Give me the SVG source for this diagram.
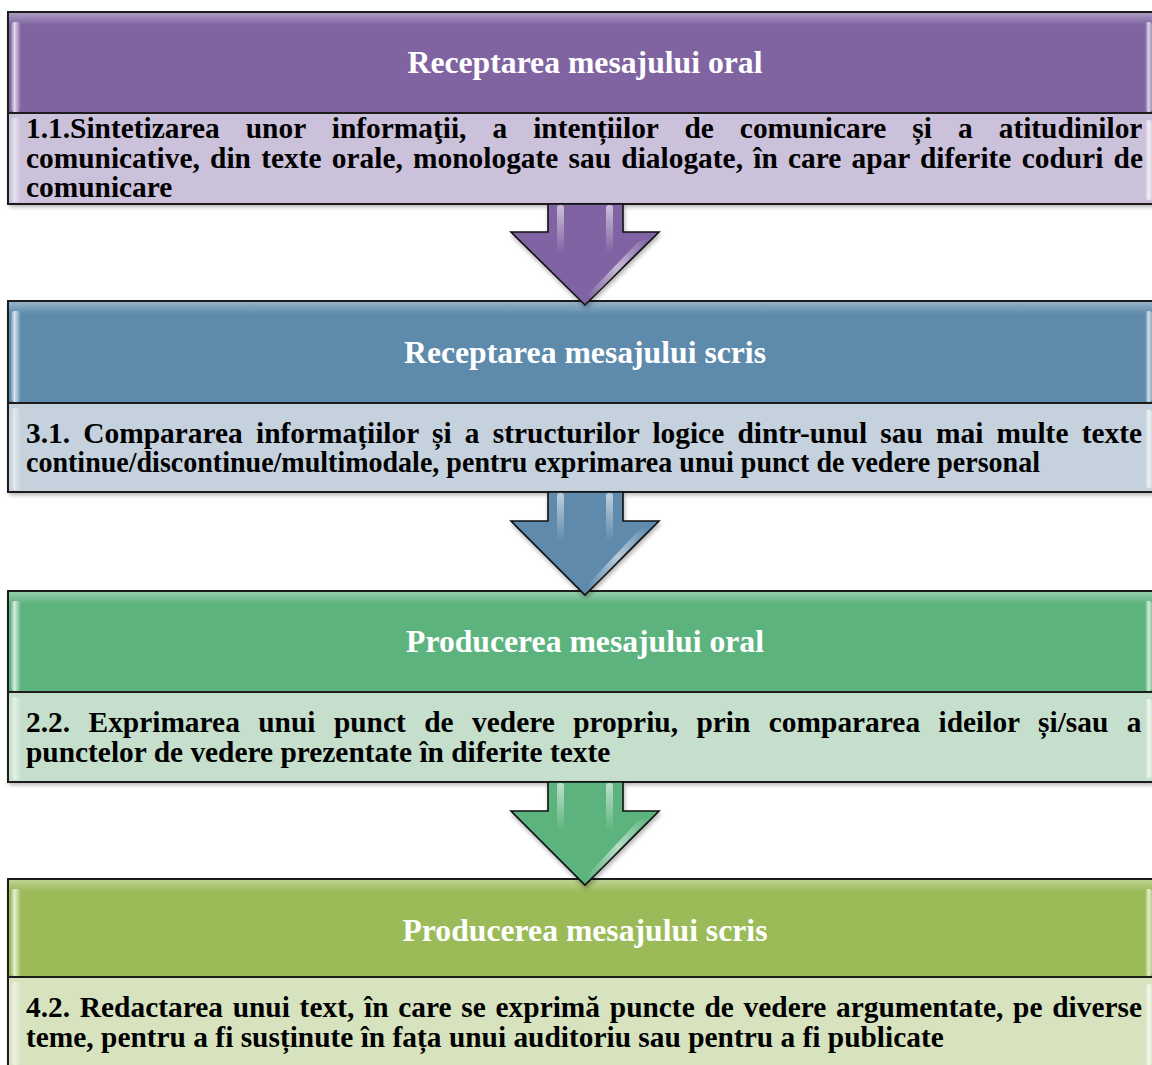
<svg xmlns="http://www.w3.org/2000/svg" width="1152" height="1065" viewBox="0 0 1152 1065">
<defs>
<style>
.hd{font-family:"Liberation Serif","Times New Roman",serif;font-weight:bold;font-size:31.7px;fill:#fff;text-anchor:middle}
.bd{font-family:"Liberation Serif","Times New Roman",serif;font-weight:bold;font-size:29.4px;fill:#000}
.frame{stroke:#1c1c1c;stroke-width:2}
.arrow{stroke:#111;stroke-width:1.6;stroke-linejoin:miter}
</style>
<filter id="sh" x="-5%" y="-10%" width="115%" height="130%">
<feDropShadow dx="1" dy="3" stdDeviation="2" flood-color="#000" flood-opacity="0.3"/>
</filter>
<linearGradient id="topGloss" x1="0" y1="0" x2="0" y2="1">
<stop offset="0" stop-color="#fff" stop-opacity="0.35"/>
<stop offset="0.12" stop-color="#fff" stop-opacity="0"/>
<stop offset="1" stop-color="#fff" stop-opacity="0"/>
</linearGradient>
<linearGradient id="leftGloss" x1="0" y1="0" x2="1" y2="0">
<stop offset="0" stop-color="#fff" stop-opacity="0.15"/>
<stop offset="0.35" stop-color="#fff" stop-opacity="0.75"/>
<stop offset="1" stop-color="#fff" stop-opacity="0"/>
</linearGradient>
<linearGradient id="rightGloss" x1="0" y1="0" x2="1" y2="0">
<stop offset="0" stop-color="#fff" stop-opacity="0"/>
<stop offset="0.5" stop-color="#fff" stop-opacity="0.7"/>
<stop offset="1" stop-color="#fff" stop-opacity="0.3"/>
</linearGradient>
<linearGradient id="stripe" x1="0" y1="0" x2="0" y2="1">
<stop offset="0" stop-color="#fff" stop-opacity="0.6"/>
<stop offset="1" stop-color="#fff" stop-opacity="0"/>
</linearGradient>
<linearGradient id="diag" x1="0" y1="1" x2="1" y2="0">
<stop offset="0" stop-color="#fff" stop-opacity="0"/>
<stop offset="0.5" stop-color="#fff" stop-opacity="0.55"/>
<stop offset="1" stop-color="#fff" stop-opacity="0"/>
</linearGradient>
</defs>
<rect width="1152" height="1065" fill="#fff"/>

<g id="box1">
<rect x="8" y="12" width="1160" height="192" fill="#CCC1DA" filter="url(#sh)"/>
<rect class="frame" x="8" y="12" width="1160" height="101" fill="#8064A2"/>
<rect x="9" y="13" width="1158" height="100" fill="url(#topGloss)"/>
<rect x="11" y="22" width="10" height="90" rx="4" fill="url(#leftGloss)"/>
<rect x="1145" y="22" width="7" height="90" rx="3" fill="url(#rightGloss)"/>
<rect class="frame" x="8" y="113" width="1160" height="91" fill="#CCC1DA"/>
<rect x="11" y="118" width="10" height="84" rx="4" fill="url(#leftGloss)" opacity="0.7"/>
<rect x="1145" y="120" width="7" height="80" rx="3" fill="url(#rightGloss)"/>
<text class="hd" x="585" y="73">Receptarea mesajului oral</text>
<text class="bd" x="26" y="138" style="word-spacing:18.7px">1.1.Sintetizarea unor informaţii, a intențiilor de comunicare și a atitudinilor</text>
<text class="bd" x="26" y="168" style="word-spacing:2.9px">comunicative, din texte orale, monologate sau dialogate, în care apar diferite coduri de</text>
<text class="bd" x="26" y="197">comunicare</text>
</g>

<g id="box2">
<rect x="8" y="301" width="1160" height="191" fill="#C5D1DC" filter="url(#sh)"/>
<rect class="frame" x="8" y="301" width="1160" height="102" fill="#5E8AAC"/>
<rect x="9" y="302" width="1158" height="101" fill="url(#topGloss)"/>
<rect x="11" y="311" width="10" height="91" rx="4" fill="url(#leftGloss)"/>
<rect x="1145" y="311" width="7" height="91" rx="3" fill="url(#rightGloss)"/>
<rect class="frame" x="8" y="403" width="1160" height="89" fill="#C5D1DC"/>
<rect x="11" y="408" width="10" height="82" rx="4" fill="url(#leftGloss)" opacity="0.7"/>
<rect x="1145" y="410" width="7" height="78" rx="3" fill="url(#rightGloss)"/>
<text class="hd" x="585" y="363">Receptarea mesajului scris</text>
<text class="bd" x="26" y="443" style="word-spacing:5.9px">3.1. Compararea informațiilor și a structurilor logice dintr-unul sau mai multe texte</text>
<text class="bd" x="26" y="472" textLength="1014" lengthAdjust="spacingAndGlyphs">continue/discontinue/multimodale, pentru exprimarea unui punct de vedere personal</text>
</g>

<g id="box3">
<rect x="8" y="591" width="1160" height="191" fill="#C5DFCC" filter="url(#sh)"/>
<rect class="frame" x="8" y="591" width="1160" height="101" fill="#5DB37E"/>
<rect x="9" y="592" width="1158" height="100" fill="url(#topGloss)"/>
<rect x="11" y="601" width="10" height="90" rx="4" fill="url(#leftGloss)"/>
<rect x="1145" y="601" width="7" height="90" rx="3" fill="url(#rightGloss)"/>
<rect class="frame" x="8" y="692" width="1160" height="90" fill="#C5DFCC"/>
<rect x="11" y="697" width="10" height="83" rx="4" fill="url(#leftGloss)" opacity="0.7"/>
<rect x="1145" y="699" width="7" height="79" rx="3" fill="url(#rightGloss)"/>
<text class="hd" x="585" y="652">Producerea mesajului oral</text>
<text class="bd" x="26" y="732" style="word-spacing:11.1px">2.2. Exprimarea unui punct de vedere propriu, prin compararea ideilor și/sau a</text>
<text class="bd" x="26" y="762">punctelor de vedere prezentate în diferite texte</text>
</g>

<g id="box4">
<rect x="8" y="879" width="1160" height="200" fill="#D7E3BF" filter="url(#sh)"/>
<rect class="frame" x="8" y="879" width="1160" height="98" fill="#9BBB59"/>
<rect x="9" y="880" width="1158" height="97" fill="url(#topGloss)"/>
<rect x="11" y="889" width="10" height="87" rx="4" fill="url(#leftGloss)"/>
<rect x="1145" y="889" width="7" height="87" rx="3" fill="url(#rightGloss)"/>
<rect class="frame" x="8" y="977" width="1160" height="100" fill="#D7E3BF"/>
<rect x="11" y="982" width="10" height="83" rx="4" fill="url(#leftGloss)" opacity="0.7"/>
<rect x="1145" y="984" width="7" height="81" rx="3" fill="url(#rightGloss)"/>
<text class="hd" x="585" y="941">Producerea mesajului scris</text>
<text class="bd" x="26" y="1017" style="word-spacing:2.4px">4.2. Redactarea unui text, în care se exprimă puncte de vedere argumentate, pe diverse</text>
<text class="bd" x="26" y="1047">teme, pentru a fi susținute în fața unui auditoriu sau pentru a fi publicate</text>
</g>

<g id="connectors">
<g id="arrow1">
<polygon class="arrow" points="548,204 623,204 623,232 659,232 585,305 511,232 548,232" fill="#8064A2" filter="url(#sh)"/>
<rect x="557" y="205" width="7" height="48" rx="3" fill="url(#stripe)"/>
<rect x="606" y="205" width="7" height="48" rx="3" fill="url(#stripe)"/>
<polygon points="638,242 650,238 594,296 588,300 590,292" fill="url(#diag)"/>
</g>
<g id="arrow2">
<polygon class="arrow" points="548,492 623,492 623,521 659,521 585,595 511,521 548,521" fill="#5E8AAC" filter="url(#sh)"/>
<rect x="557" y="493" width="7" height="48" rx="3" fill="url(#stripe)"/>
<rect x="606" y="493" width="7" height="48" rx="3" fill="url(#stripe)"/>
<polygon points="638,531 650,527 594,586 588,590 590,582" fill="url(#diag)"/>
</g>
<g id="arrow3">
<polygon class="arrow" points="548,782 623,782 623,811 659,811 585,885 511,811 548,811" fill="#5DB37E" filter="url(#sh)"/>
<rect x="557" y="783" width="7" height="48" rx="3" fill="url(#stripe)"/>
<rect x="606" y="783" width="7" height="48" rx="3" fill="url(#stripe)"/>
<polygon points="638,821 650,817 594,876 588,880 590,872" fill="url(#diag)"/>
</g>
</g>
</svg>
